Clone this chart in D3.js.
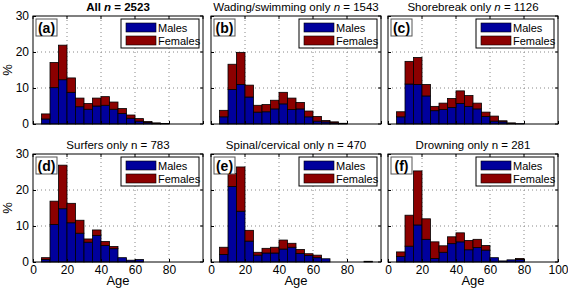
<!DOCTYPE html>
<html>
<head>
<meta charset="utf-8">
<script src="https://cdn.jsdelivr.net/npm/d3@7"></script>
<style>
  body { margin: 0; background: #fff; }
  svg { font-family: "Liberation Sans", Arial, sans-serif; }
</style>
</head>
<body>
<svg id="chart" width="568" height="289"></svg>
<script>
// age bins, 5-year width, starting at 5
const binStarts = [5, 10, 15, 20, 25, 30, 35, 40, 45, 50, 55, 60, 65, 70, 75, 80, 85, 90];
const xTicks = [0, 20, 40, 60, 80, 100];
const yTicks = [0, 10, 20, 30];

const panelLetters = ["(a)", "(b)", "(c)", "(d)", "(e)", "(f)"];
const panelNames = ["All", "Wading/swimming only", "Shorebreak only", "Surfers only", "Spinal/cervical only", "Drowning only"];
const panelN = [2523, 1543, 1126, 783, 470, 281];

// percent per bin
const malesA = [1.4, 10.1, 12.3, 8.8, 4.8, 4.1, 5.0, 5.2, 4.1, 2.9, 1.6, 0.8, 0.4, 0.2, 0.1];
const femalesA = [1.4, 7.0, 9.6, 4.0, 2.4, 1.6, 2.2, 2.4, 2.0, 1.4, 0.9, 0.7, 0.3, 0.1, 0.05];
const malesB = [2.0, 9.6, 11.0, 7.5, 3.3, 3.4, 4.2, 5.6, 4.0, 4.2, 2.0, 0.8, 0.6, 0.3, 0.1];
const femalesB = [1.8, 7.0, 8.9, 3.3, 1.9, 2.0, 2.4, 3.2, 3.2, 1.8, 1.6, 1.3, 0.4, 0.3, 0.1];
const malesC = [2.0, 11.1, 11.0, 7.8, 3.7, 4.0, 4.6, 5.7, 4.9, 4.2, 2.1, 0.8, 0.6, 0.2, 0.1];
const femalesC = [1.4, 6.3, 7.5, 3.2, 1.2, 1.8, 2.5, 3.5, 3.0, 1.6, 1.2, 1.4, 0.3, 0.1, 0];
const malesD = [0.7, 10.4, 14.8, 10.9, 8.0, 5.5, 7.4, 4.6, 3.7, 1.2, 0.5, 0.7];
const femalesD = [0.5, 6.5, 12.1, 5.4, 3.6, 0.9, 1.5, 1.1, 0.6, 0, 0, 0];
const malesE = [2.1, 21.0, 14.1, 5.8, 1.9, 2.5, 2.5, 3.6, 4.1, 2.4, 1.8, 1.2, 0.9, 0, 0, 0, 0, 0.2];
const femalesE = [2.0, 3.6, 12.3, 3.0, 0.8, 1.3, 1.6, 2.5, 1.1, 1.1, 0.5, 0.7, 0, 0, 0, 0, 0, 0];
const malesF = [1.5, 4.4, 10.3, 6.3, 1.0, 2.7, 5.1, 5.6, 3.4, 4.0, 3.3, 1.2, 0.3, 0.6, 0.7];
const femalesF = [1.3, 8.6, 15.0, 5.7, 4.6, 1.8, 1.9, 2.5, 2.6, 2.3, 1.3, 0, 0, 0, 0.3];

const males = [malesA, malesB, malesC, malesD, malesE, malesF];
const females = [femalesA, femalesB, femalesC, femalesD, femalesE, femalesF];

const maleColour = "#00009c";
const femaleColour = "#8c0000";

const svg = d3.select("#chart");
const colLeft = [33, 211, 388];
const rowTop = [16, 154];
const pw = 170, ph = 108;

panelLetters.forEach((letter, p) => {
  const col = p % 3, row = Math.floor(p / 3);
  const g = svg.append("g").attr("transform", `translate(${colLeft[col]},${rowTop[row]})`);

  const x = d3.scaleLinear().domain([0, 100]).range([0, pw]);
  const y = d3.scaleLinear().domain([0, 30]).range([ph, 0]);

  // grid
  g.selectAll(".gx").data([20, 40, 60, 80]).enter().append("line")
    .attr("x1", d => x(d)).attr("x2", d => x(d)).attr("y1", 0).attr("y2", ph)
    .attr("stroke", "#888").attr("stroke-dasharray", "1,3");
  g.selectAll(".gy").data([10, 20]).enter().append("line")
    .attr("y1", d => y(d)).attr("y2", d => y(d)).attr("x1", 0).attr("x2", pw)
    .attr("stroke", "#888").attr("stroke-dasharray", "1,3");

  // stacked bars
  const data = binStarts.map((b, i) => ({ b, m: males[p][i] || 0, f: females[p][i] || 0 }))
    .filter(d => d.m + d.f > 0);

  g.selectAll(".male").data(data).enter().append("rect")
    .attr("x", d => x(d.b)).attr("width", x(5) - x(0))
    .attr("y", d => y(d.m)).attr("height", d => y(0) - y(d.m))
    .attr("fill", maleColour).attr("stroke", "#000").attr("stroke-width", 0.8);
  g.selectAll(".female").data(data.filter(d => d.f > 0)).enter().append("rect")
    .attr("x", d => x(d.b)).attr("width", x(5) - x(0))
    .attr("y", d => y(d.m + d.f)).attr("height", d => y(d.m) - y(d.m + d.f))
    .attr("fill", femaleColour).attr("stroke", "#000").attr("stroke-width", 0.8);

  // axes, ticks inside
  const xAxis = d3.axisBottom(x).tickValues(xTicks).tickSizeInner(-3).tickSizeOuter(0)
    .tickFormat(row === 1 ? (d => (col < 2 && d === 100) ? "" : d) : "");
  const xa = g.append("g").attr("transform", `translate(0,${ph})`).call(xAxis);
  const yAxis = d3.axisLeft(y).tickValues(yTicks).tickSizeInner(-3).tickSizeOuter(0)
    .tickFormat(col === 0 ? d => d : "");
  const ya = g.append("g").call(yAxis);
  [xa, ya].forEach(a => {
    a.select(".domain").remove();
    a.selectAll("line").attr("stroke", "#000");
    a.selectAll("text").attr("font-size", 12).attr("fill", "#000")
      .attr("font-family", "Liberation Sans, Arial, sans-serif");
  });
  xa.selectAll("text").attr("dy", "0.85em").attr("y", 2);
  ya.selectAll("text").attr("x", -4);
  // top/right ticks
  g.selectAll(".tt").data(xTicks).enter().append("line")
    .attr("x1", d => x(d)).attr("x2", d => x(d)).attr("y1", 0).attr("y2", 3).attr("stroke", "#000");
  g.selectAll(".tr").data(yTicks).enter().append("line")
    .attr("y1", d => y(d)).attr("y2", d => y(d)).attr("x1", pw).attr("x2", pw - 3).attr("stroke", "#000");

  // frame
  g.append("rect").attr("width", pw).attr("height", ph)
    .attr("fill", "none").attr("stroke", "#000").attr("stroke-width", 1);

  // panel letter
  const lb = g.append("g").attr("transform", "translate(3,3)");
  lb.append("rect").attr("width", 21).attr("height", 17)
    .attr("fill", "#fff").attr("stroke", "#555").attr("stroke-width", 1);
  lb.append("text").attr("x", 10.5).attr("y", 13.5).attr("text-anchor", "middle")
    .attr("font-size", 14).attr("font-weight", "bold").text(letter);

  // legend
  const lg = g.append("g").attr("transform", `translate(${pw - 82},3)`);
  lg.append("rect").attr("width", 78).attr("height", 29)
    .attr("fill", "#fff").attr("stroke", "#000").attr("stroke-width", 1);
  [["Males", maleColour], ["Females", femaleColour]].forEach(([name, c], i) => {
    lg.append("rect").attr("x", 5).attr("y", 4 + i * 13).attr("width", 30).attr("height", 9)
      .attr("fill", c).attr("stroke", "#000").attr("stroke-width", 0.6);
    lg.append("text").attr("x", 37).attr("y", 12.5 + i * 13).attr("font-size", 11).text(name);
  });

  // title
  const t = g.append("text").attr("x", pw / 2).attr("y", -5).attr("text-anchor", "middle")
    .attr("font-size", 11.5);
  if (p === 0) t.attr("font-weight", "bold");
  t.append("tspan").text(panelNames[p] + " ");
  t.append("tspan").attr("font-style", row === 0 ? "italic" : "normal").text("n");
  t.append("tspan").text(" = " + panelN[p]);

  // axis labels
  if (row === 1) {
    g.append("text").attr("x", pw / 2).attr("y", ph + 23).attr("text-anchor", "middle")
      .attr("font-size", 13).text("Age");
  }
  if (col === 0) {
    g.append("text").attr("transform", `translate(-21,${ph / 2}) rotate(-90)`)
      .attr("text-anchor", "middle").attr("font-size", 13).text("%");
  }
});
</script>
</body>
</html>
